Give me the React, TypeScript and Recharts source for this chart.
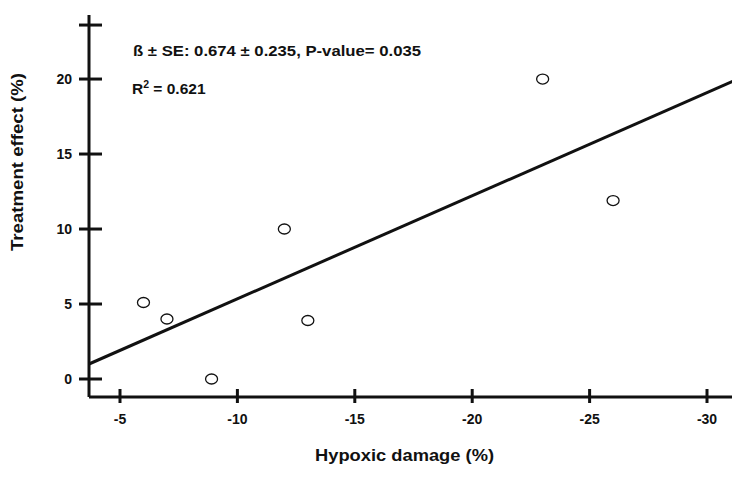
import { ScatterChart, Scatter, XAxis, YAxis, Label } from 'recharts';

const INK = '#111';
const FONT = '"Liberation Sans", Arial, sans-serif';

const hypoxicDamage = [-6.0, -7.0, -8.9, -12.0, -13.0, -23.0, -26.0];
const treatmentEffect = [5.1, 4.0, 0.0, 10.0, 3.9, 20.0, 11.9];

// fitted regression line, end points at the axis limits
const fitX = [-3.68, -31.32];
const fitY = [1.0, 20.0];

const xDomain = [-31.32, -3.68];
const yDomain = [-1.2, 24.27];
const xTicks = [-5, -10, -15, -20, -25, -30];
const yTicks = [0, 5, 10, 15, 20, 23.6];
const yTickLabels = ['0', '5', '10', '15', '20', ''];

const points = hypoxicDamage.map((x, i) => ({ x, y: treatmentEffect[i] }));
const fitLine = fitX.map((x, i) => ({ x, y: fitY[i] }));

function XTick(props: any) {
    const { x, y, payload } = props;
    const axisY = y - 17;
    return (
        <g>
            <line x1={x} x2={x} y1={axisY - 8} y2={axisY + 6} stroke={INK} strokeWidth={3} />
            <text x={x} y={y} dy="0.71em" textAnchor="middle" fill={INK}
                fontFamily={FONT} fontWeight="bold" fontSize={14}>
                {payload.value}
            </text>
        </g>
    );
}

function YTick(props: any) {
    const { x, y, payload } = props;
    const axisX = x + 17;
    const label = yTickLabels[yTicks.indexOf(payload.value)] ?? '';
    return (
        <g>
            <line x1={axisX - 10} x2={axisX + 13} y1={y} y2={y} stroke={INK} strokeWidth={3} />
            {label && (
                <text x={x} y={y} dy="0.35em" textAnchor="end" fill={INK}
                    fontFamily={FONT} fontWeight="bold" fontSize={14}>
                    {label}
                </text>
            )}
        </g>
    );
}

const openCircle = (p: any) => (
    <ellipse cx={p.cx} cy={p.cy} rx={6} ry={5} fill="#fff" stroke={INK} strokeWidth={1.3} />
);

const titleStyle = { fontFamily: FONT, fontWeight: 'bold' as const, fill: INK };

export default function App() {
    return (
        <div style={{ position: 'relative', width: 732, height: 461 }}>
            <ScatterChart width={732} height={461} margin={{ top: 7, right: 2, bottom: 0, left: 0 }}>
                <XAxis
                    dataKey="x"
                    type="number"
                    domain={xDomain}
                    reversed
                    allowDataOverflow
                    ticks={xTicks}
                    tick={<XTick />}
                    tickLine={false}
                    tickSize={7}
                    tickMargin={10}
                    height={72}
                    axisLine={{ stroke: INK, strokeWidth: 3 }}
                >
                    <Label content={() => (
                        <text x={396.5} y={453} textAnchor="middle" textLength={179}
                            lengthAdjust="spacingAndGlyphs" {...titleStyle} fontSize={16.5}>
                            Hypoxic damage (%)
                        </text>
                    )} />
                </XAxis>
                <YAxis
                    dataKey="y"
                    type="number"
                    domain={yDomain}
                    allowDataOverflow
                    ticks={yTicks}
                    tick={<YTick />}
                    tickLine={false}
                    tickSize={10}
                    tickMargin={7}
                    width={81}
                    axisLine={{ stroke: INK, strokeWidth: 3 }}
                >
                    <Label content={() => (
                        <text x={14.5} y={154} transform="rotate(-90, 14.5, 154)" textAnchor="middle"
                            textLength={178} lengthAdjust="spacingAndGlyphs" {...titleStyle} fontSize={16}>
                            Treatment effect (%)
                        </text>
                    )} />
                </YAxis>
                <Scatter
                    data={fitLine}
                    line={{ stroke: INK, strokeWidth: 3 }}
                    shape={() => <g />}
                    isAnimationActive={false}
                />
                <Scatter data={points} shape={openCircle} isAnimationActive={false} />
            </ScatterChart>
            <svg width={732} height={461} style={{ position: 'absolute', left: 0, top: 0, pointerEvents: 'none' }}>
                <text x={125} y={48} fill={INK} fontFamily={FONT} fontWeight="bold" fontSize={15.5}
                    textLength={288} lengthAdjust="spacingAndGlyphs">
                    ß ± SE: 0.674 ± 0.235, P-value= 0.035
                </text>
                <text x={124} y={86} fill={INK} fontFamily={FONT} fontWeight="bold" fontSize={15.5}>
                    R<tspan dy={-6} fontSize={10.5}>2</tspan><tspan dy={6}> = 0.621</tspan>
                </text>
            </svg>
        </div>
    );
}
